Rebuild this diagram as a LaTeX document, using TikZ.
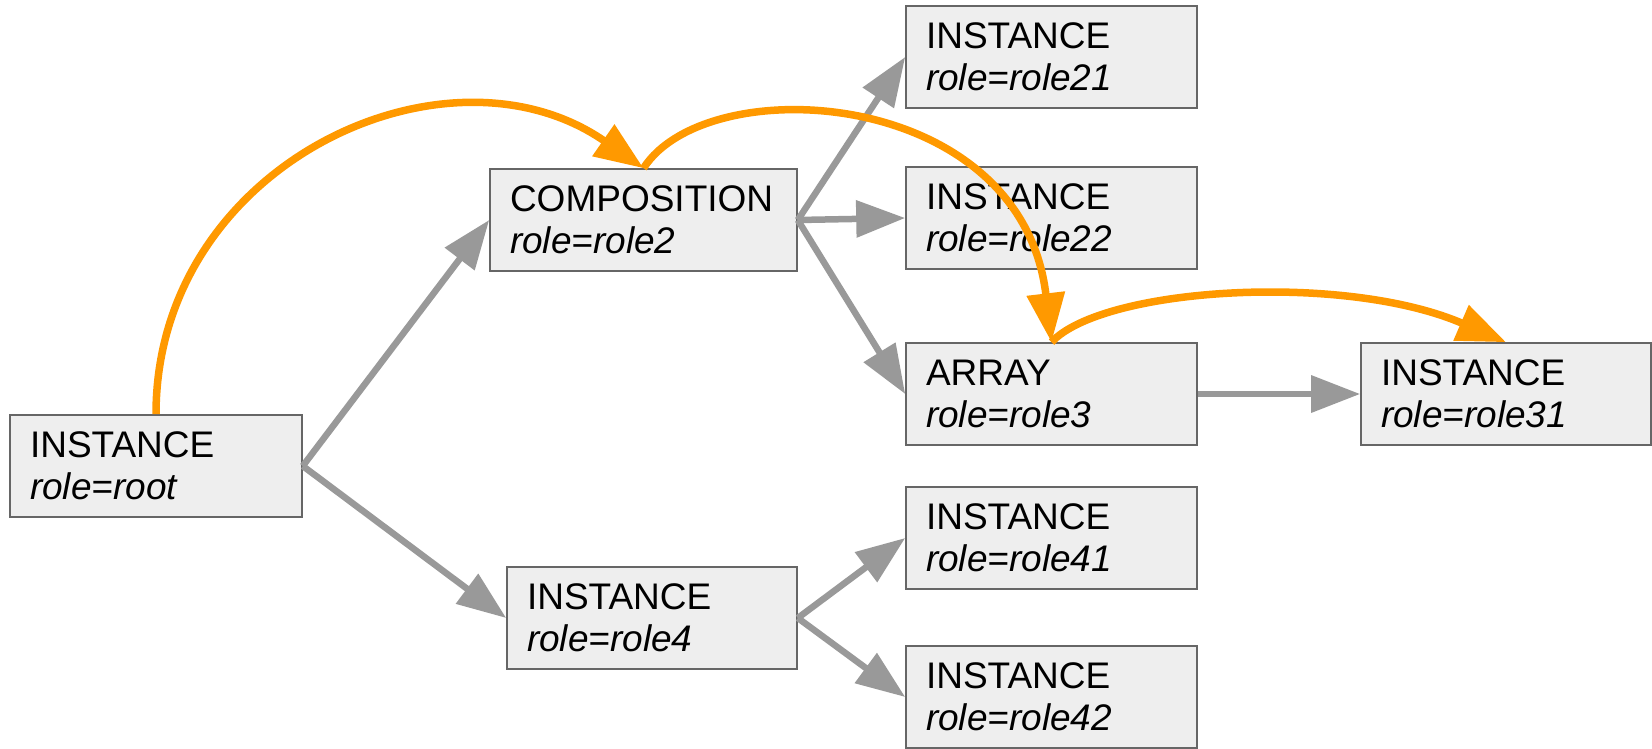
\documentclass[tikz,border=0pt]{standalone}
\usepackage{fontspec}
\setmainfont{Liberation Sans}
\usetikzlibrary{arrows.meta}
\definecolor{boxfill}{HTML}{EEEEEE}
\definecolor{boxline}{HTML}{666666}
\definecolor{garrowc}{HTML}{999999}
\definecolor{oarrowc}{HTML}{FF9900}
\tikzset{
  x=1pt, y=-1pt,
  box/.style={draw=boxline, line width=1.6pt, fill=boxfill, rectangle,
    minimum height=102pt, text width=252pt, inner xsep=20pt, inner ysep=0pt,
    align=left, font=\fontsize{37}{42}\selectfont},
  garrow/.style={draw=garrowc, line width=6.5pt,
    -{Triangle[length=49pt,width=36pt]}},
  oarrow/.style={draw=oarrowc, line width=7.5pt,
    -{Triangle[length=49pt,width=37pt]}},
}
\begin{document}
\begin{tikzpicture}
\useasboundingbox (0,0) rectangle (1652,748);
\node[box] (root) at (156,466) {INSTANCE\\\textit{role=root}};
\node[box, text width=267pt] (comp) at (643.5,220) {COMPOSITION\\\textit{role=role2}};
\node[box, text width=251pt] (r21) at (1051.5,57) {INSTANCE\\\textit{role=role21}};
\node[box, text width=251pt] (r22) at (1051.5,218) {INSTANCE\\\textit{role=role22}};
\node[box, text width=251pt] (r3) at (1051.5,394) {ARRAY\\\textit{role=role3}};
\node[box, text width=250pt] (r31) at (1506,394) {INSTANCE\\\textit{role=role31}};
\node[box, text width=250pt] (r4) at (652,618) {INSTANCE\\\textit{role=role4}};
\node[box, text width=251pt] (r41) at (1051.5,538) {INSTANCE\\\textit{role=role41}};
\node[box, text width=251pt] (r42) at (1051.5,697) {INSTANCE\\\textit{role=role42}};

\draw[garrow] (root.east) -- (comp.west);
\draw[garrow] (root.east) -- (r4.west);
\draw[garrow] (comp.east) -- (r21.west);
\draw[garrow] (comp.east) -- (r22.west);
\draw[garrow] (comp.east) -- (r3.west);
\draw[garrow] (r3.east) -- (r31.west);
\draw[garrow] (r4.east) -- (r41.west);
\draw[garrow] (r4.east) -- (r42.west);

\draw[oarrow] (root.north) .. controls +(0,-250) and +(-197,-137) .. (comp.north);
\draw[oarrow] (comp.north) .. controls +(64,-100) and +(-30,-255) .. (r3.north);
\draw[oarrow] (r3.north) .. controls +(51,-55) and +(-162,-70) .. (r31.north);
\end{tikzpicture}
\end{document}
